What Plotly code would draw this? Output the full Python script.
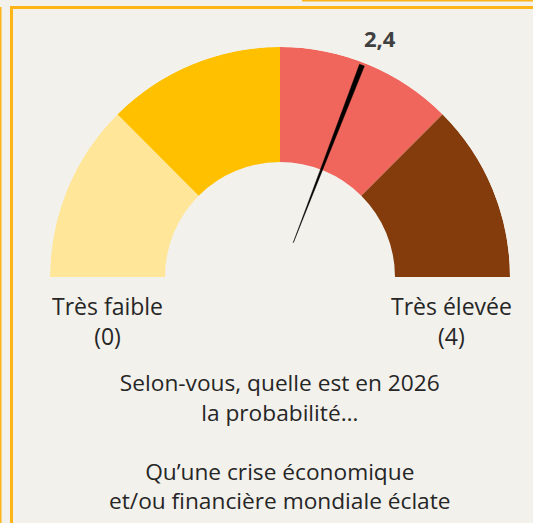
import plotly.graph_objects as go

# ---- data ----
band_starts = [0, 1, 2, 3]
band_ends = [1, 2, 3, 4]
band_colors = ["#FFE699", "#FFC000", "#F0665C", "#843C0C"]
needle_value = 2.47
value_label = "2,4"
scale_min, scale_max = 0, 4
end_labels = ["Très faible<br>(0)", "Très élevée<br>(4)"]
question = "Selon-vous, quelle est en 2026<br>la probabilité…<br><br>Qu’une crise économique<br>et/ou financière mondiale éclate"

W, H = 533, 523
BG = "#F2F1EC"
FONT = "Open Sans"
TXT = "#262626"

def deg(v):
    return (v - scale_min) / (scale_max - scale_min) * 180.0

fig = go.Figure()

# gauge bands
fig.add_trace(go.Barpolar(
    theta=[deg((a + b) / 2) for a, b in zip(band_starts, band_ends)],
    width=[deg(b) - deg(a) for a, b in zip(band_starts, band_ends)],
    r=[1] * len(band_starts),
    base=[0] * len(band_starts),
    marker=dict(color=band_colors, line=dict(width=0)),
    hoverinfo="skip",
))

# needle (tapered wedge)
t = deg(needle_value)
fig.add_trace(go.Scatterpolar(
    r=[-0.68, 0.975, 0.975, -0.68],
    theta=[t, t - 0.65, t + 0.65, t],
    mode="lines", fill="toself", fillcolor="#000000",
    line=dict(color="#000000", width=0.5),
    hoverinfo="skip",
))

cx, R = 280, 230
fig.update_layout(
    width=W, height=H,
    margin=dict(l=0, r=0, t=0, b=0),
    paper_bgcolor=BG, plot_bgcolor=BG,
    showlegend=False,
    polar=dict(
        domain=dict(x=[(cx - R) / W, (cx + R) / W], y=[1 - 277 / H, 1 - 47 / H]),
        sector=[0, 180],
        hole=0,
        bgcolor=BG,
        bargap=0,
        radialaxis=dict(visible=False, range=[-1, 1]),
        angularaxis=dict(visible=False, rotation=180, direction="clockwise"),
    ),
)

def ann(text, px, py, size=23, bold=False, color=TXT):
    fig.add_annotation(
        text=f"<b>{text}</b>" if bold else text,
        x=px / W, y=1 - py / H, xref="paper", yref="paper",
        showarrow=False, xanchor="center", yanchor="middle", align="center",
        font=dict(family=FONT, size=size, color=color),
    )

ann(value_label, 380, 38, size=22, bold=True, color="#404040")
ann(end_labels[0], 107, 321)
ann(end_labels[1], 451, 321)
ann(question, 280, 441, size=22.7)

# frame decorations
OR = "#FFB517"
fig.add_shape(type="line", xref="paper", yref="paper", x0=11.5 / W, x1=11.5 / W, y0=0, y1=1 - 6 / H,
              line=dict(color=OR, width=3))
fig.add_shape(type="line", xref="paper", yref="paper", x0=10 / W, x1=1, y0=1 - 7.5 / H, y1=1 - 7.5 / H,
              line=dict(color=OR, width=3))
fig.add_shape(type="line", xref="paper", yref="paper", x0=0.5 / W, x1=0.5 / W, y0=0, y1=1 - 7 / H,
              line=dict(color=OR, width=2))
fig.add_shape(type="line", xref="paper", yref="paper", x0=302 / W, x1=1, y0=1 - 0.5 / H, y1=1 - 0.5 / H,
              line=dict(color=OR, width=2))

fig.write_html(
    "out.html",
    config={"displayModeBar": False},
    post_script="document.body.style.margin='0px';document.body.style.overflow='hidden';"
                "document.body.style.background='" + BG + "';",
)
